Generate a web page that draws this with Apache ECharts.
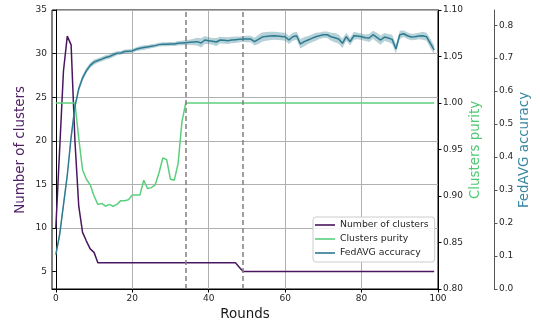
<!DOCTYPE html>
<html>
<head>
<meta charset="utf-8">
<script src="https://cdn.jsdelivr.net/npm/echarts@6/dist/echarts.min.js"></script>
<style>html,body{margin:0;padding:0;background:#fff}#c{width:540px;height:324px}</style>
</head>
<body>
<div id="c"></div>
<script>
// ---- data ----
const numClusters = [10,19,28,32,31,20,12.5,9.5,8.5,7.6,
  7.2,6,6,6,6,6,6,6,6,6,
  6,6,6,6,6,6,6,6,6,6,
  6,6,6,6,6,6,6,6,6,6,
  6,6,6,6,6,6,6,6,5.5,5,
  5,5,5,5,5,5,5,5,5,5,
  5,5,5,5,5,5,5,5,5,5,
  5,5,5,5,5,5,5,5,5,5,
  5,5,5,5,5,5,5,5,5,5,
  5,5,5,5,5,5,5,5,5,5];
const purity = [1,1,1,1,1,1,0.962,0.928,0.918,0.912,
  0.900,0.891,0.892,0.889,0.891,0.889,0.891,0.895,0.895,0.896,
  0.901,0.901,0.901,0.917,0.908,0.909,0.912,0.925,0.941,0.939,
  0.918,0.917,0.935,0.980,1,1,1,1,1,1,
  1,1,1,1,1,1,1,1,1,1,
  1,1,1,1,1,1,1,1,1,1,
  1,1,1,1,1,1,1,1,1,1,
  1,1,1,1,1,1,1,1,1,1,
  1,1,1,1,1,1,1,1,1,1,
  1,1,1,1,1,1,1,1,1,1];
const accuracy = [0.104,0.165,0.255,0.345,0.460,0.553,0.607,0.640,0.662,0.678,
  0.688,0.693,0.697,0.702,0.705,0.710,0.715,0.716,0.720,0.721,
  0.722,0.727,0.730,0.732,0.734,0.736,0.738,0.741,0.742,0.742,
  0.743,0.743,0.745,0.746,0.747,0.748,0.749,0.750,0.746,0.755,
  0.753,0.751,0.749,0.755,0.754,0.753,0.755,0.756,0.757,0.758,
  0.758,0.758,0.750,0.757,0.764,0.766,0.767,0.768,0.767,0.766,
  0.765,0.755,0.765,0.768,0.743,0.750,0.755,0.760,0.765,0.768,
  0.771,0.771,0.765,0.762,0.758,0.745,0.765,0.750,0.768,0.767,
  0.765,0.762,0.761,0.771,0.763,0.755,0.764,0.761,0.757,0.728,
  0.771,0.774,0.768,0.764,0.765,0.767,0.768,0.765,0.745,0.725];
const accuracyStd = [0.010,0.012,0.012,0.012,0.012,0.010,0.010,0.009,0.008,0.008,
  0.008,0.007,0.007,0.007,0.007,0.007,0.006,0.006,0.006,0.006,
  0.006,0.006,0.007,0.007,0.006,0.006,0.006,0.006,0.006,0.006,
  0.006,0.006,0.007,0.007,0.008,0.008,0.010,0.012,0.014,0.012,
  0.010,0.010,0.012,0.010,0.010,0.010,0.010,0.010,0.009,0.009,
  0.010,0.010,0.012,0.014,0.014,0.013,0.013,0.012,0.012,0.012,
  0.012,0.012,0.012,0.012,0.014,0.014,0.012,0.012,0.012,0.010,
  0.010,0.010,0.012,0.014,0.014,0.014,0.012,0.012,0.012,0.010,
  0.010,0.010,0.012,0.012,0.014,0.014,0.012,0.012,0.014,0.014,
  0.012,0.010,0.010,0.010,0.010,0.010,0.012,0.012,0.014,0.014];
const xTicks = [0,20,40,60,80,100];
const yTicks = [5,10,15,20,25,30,35];
const phaseLines = [34,49];

const FONT = 'DejaVu Sans';
const C_PURPLE = '#4a165f', C_GREEN = '#5ccf7c', C_BLUE = '#2d7b90';

const pts = arr => arr.map((v,i)=>[i,v]);
const bandData = accuracy.map((v,i)=>[i, v-accuracyStd[i], v+accuracyStd[i]]);

const lbl = {color:'#262626', fontFamily:FONT, fontSize:9};
const chart = echarts.init(document.getElementById('c'), null, {renderer:'canvas'});
chart.setOption({
  animation:false,
  backgroundColor:'#fff',
  grid:{left:52, right:102, top:10, bottom:35, show:true, borderColor:'#000', borderWidth:1, backgroundColor:'transparent'},
  xAxis:{type:'value', min:-1, max:100, splitNumber:5, minInterval:20, maxInterval:20,
    axisLine:{lineStyle:{color:'#000', width:1}},
    axisTick:{length:3.5, lineStyle:{color:'#000'}, customValues:xTicks},
    axisLabel:Object.assign({margin:5, customValues:xTicks}, lbl),
    splitLine:{show:true, showMinLine:false, lineStyle:{color:'#b0b0b0', width:1}}},
  yAxis:[
    {type:'value', min:3, max:35, splitNumber:6, minInterval:5, maxInterval:5, position:'left',
     axisLine:{show:true, lineStyle:{color:'#000'}},
     axisTick:{show:true, length:3.5, lineStyle:{color:'#000'}, customValues:yTicks},
     axisLabel:Object.assign({margin:5, customValues:yTicks}, lbl),
     splitLine:{show:true, showMinLine:false, lineStyle:{color:'#b0b0b0', width:1}}},
    {type:'value', min:0.8, max:1.1, interval:0.05, position:'right', offset:0,
     axisLine:{show:true, lineStyle:{color:'#000'}},
     axisTick:{show:true, length:3.5, lineStyle:{color:'#000'}},
     axisLabel:Object.assign({margin:5, formatter:v=>v.toFixed(2)}, lbl),
     splitLine:{show:false}},
    {type:'value', min:0, max:0.846, interval:0.1, position:'right', offset:56,
     axisLine:{show:true, lineStyle:{color:'#555'}},
     axisTick:{show:true, length:3.5, lineStyle:{color:'#555'}},
     axisLabel:Object.assign({margin:5, showMaxLabel:false, formatter:v=>v.toFixed(1)}, lbl),
     splitLine:{show:false}}
  ],
  legend:{
    data:['Number of clusters','Clusters purity','FedAVG accuracy'],
    orient:'vertical', left:313, top:217,
    icon:'rect', itemWidth:20, itemHeight:1.6, itemGap:2,
    padding:[2,6,3,2],
    backgroundColor:'rgba(255,255,255,0.85)', borderColor:'#cccccc', borderWidth:1, borderRadius:3,
    textStyle:{fontFamily:FONT, fontSize:9.3, color:'#262626', lineHeight:12}
  },
  series:[
    {name:'Number of clusters', type:'line', yAxisIndex:0, data:pts(numClusters), showSymbol:false, symbol:'none',
     lineStyle:{color:C_PURPLE, width:1.5}, itemStyle:{color:C_PURPLE}, z:3,
     markLine:{silent:true, symbol:'none', label:{show:false},
       lineStyle:{color:'#808080', type:[5,3], width:1.5},
       data:phaseLines.map(v=>({xAxis:v}))}},
    {name:'Clusters purity', type:'line', yAxisIndex:1, data:pts(purity), showSymbol:false, symbol:'none',
     lineStyle:{color:C_GREEN, width:1.5}, itemStyle:{color:C_GREEN}, z:3},
    {name:'accuracyBand', type:'custom', yAxisIndex:2, data:bandData, silent:true, z:4,
     encode:{x:0, y:[1,2]},
     renderItem:function(params, api){
       if (params.dataIndex !== 0) return null;
       const up = [], lo = [];
       for (let i = 0; i < bandData.length; i++) {
         up.push(api.coord([bandData[i][0], bandData[i][2]]));
         lo.push(api.coord([bandData[i][0], bandData[i][1]]));
       }
       return {type:'polygon', shape:{points: up.concat(lo.reverse())},
         style:{fill:'rgba(45,123,144,0.35)', stroke:null}};
     }},
    {name:'FedAVG accuracy', type:'line', yAxisIndex:2, data:pts(accuracy), showSymbol:false, symbol:'none',
     lineStyle:{color:C_BLUE, width:1.5}, itemStyle:{color:C_BLUE}, z:5}
  ],
  graphic:[
    {type:'text', x:21, y:150, rotation:Math.PI/2, style:{text:'Number of clusters', fill:'#4f1f65', font:'13.4px "DejaVu Sans"', textAlign:'center', textVerticalAlign:'middle'}},
    {type:'text', x:476, y:150, rotation:Math.PI/2, style:{text:'Clusters purity', fill:'#52c873', font:'13.4px "DejaVu Sans"', textAlign:'center', textVerticalAlign:'middle'}},
    {type:'text', x:525, y:150, rotation:Math.PI/2, style:{text:'FedAVG accuracy', fill:'#3b87a2', font:'13.4px "DejaVu Sans"', textAlign:'center', textVerticalAlign:'middle'}},
    {type:'text', x:245, y:315, style:{text:'Rounds', fill:'#1a1a1a', font:'13.4px "DejaVu Sans"', textAlign:'center', textVerticalAlign:'middle'}}
  ]
});
</script>
</body>
</html>
